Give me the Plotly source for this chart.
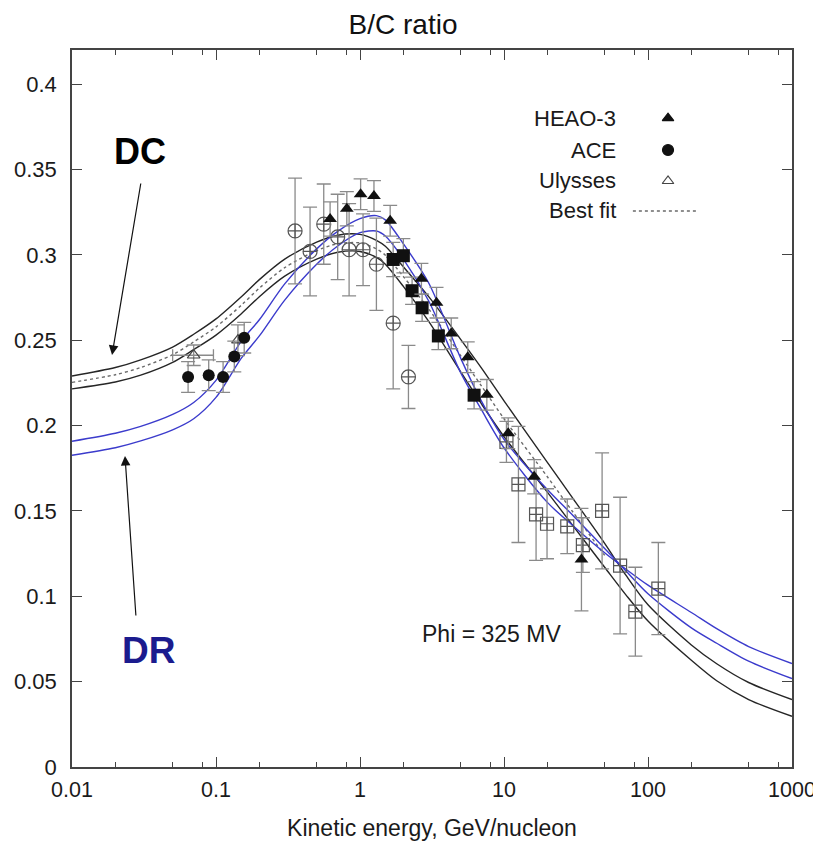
import plotly.graph_objects as go

# ---------------- data ----------------
energy_grid = [0.01, 0.02, 0.03, 0.05, 0.07, 0.1, 0.15, 0.2, 0.3, 0.5, 0.7, 1.0, 1.3, 1.5,
               2, 3, 5, 7, 10, 20, 30, 50, 70, 100, 200, 300, 500, 1000]

dc_upper = [0.229, 0.234, 0.2385, 0.246, 0.2535, 0.2625, 0.2755, 0.2855, 0.2975, 0.3075, 0.3115,
            0.312, 0.3085, 0.305, 0.293, 0.2755, 0.2505, 0.2335, 0.2145, 0.1785, 0.1575, 0.131,
            0.1125, 0.095, 0.0715, 0.0605, 0.0495, 0.0395]
dc_lower = [0.2215, 0.2255, 0.2295, 0.237, 0.2445, 0.253, 0.2655, 0.2755, 0.2875, 0.2975, 0.3015,
            0.302, 0.2985, 0.2945, 0.2815, 0.261, 0.2315, 0.2125, 0.1935, 0.161, 0.1415, 0.117,
            0.101, 0.0855, 0.0625, 0.0505, 0.0395, 0.0297]
best_fit_energy = [0.01, 0.02, 0.03, 0.05, 0.07, 0.1, 0.15, 0.2, 0.3, 0.5, 0.7, 1.0, 1.3, 1.5,
                   2, 3, 5, 7, 10, 20, 30, 50]
best_fit = [0.2253, 0.2298, 0.234, 0.2415, 0.249, 0.2578, 0.2705, 0.2805, 0.2925, 0.3025, 0.3065,
            0.307, 0.3035, 0.2998, 0.2873, 0.2683, 0.241, 0.223, 0.204, 0.17, 0.1495, 0.124]
dr_a = [0.1908, 0.1955, 0.1995, 0.2065, 0.2135, 0.2265, 0.2495, 0.262, 0.283, 0.3035, 0.3138,
        0.3212, 0.323, 0.3205, 0.3065, 0.2835, 0.2395, 0.214, 0.192, 0.1625, 0.1475, 0.128,
        0.115, 0.1015, 0.0815, 0.0725, 0.062, 0.0518]
dr_b = [0.1826, 0.187, 0.191, 0.1975, 0.204, 0.2165, 0.2395, 0.2525, 0.2735, 0.2945, 0.3052,
        0.313, 0.314, 0.311, 0.2975, 0.273, 0.231, 0.209, 0.187, 0.155, 0.1415, 0.1255,
        0.116, 0.1065, 0.0905, 0.081, 0.0705, 0.0606]

heao_e = [0.62, 0.81, 1.01, 1.25, 1.62, 2.67, 3.4, 4.3, 5.6, 7.6, 10.7, 16.2, 34.5]
heao_v = [0.321, 0.327, 0.3355, 0.3345, 0.320, 0.286, 0.272, 0.254, 0.240, 0.218, 0.1955, 0.170, 0.1215]
heao_err = [0.010, 0.010, 0.009, 0.009, 0.009, 0.009, 0.009, 0.009, 0.009, 0.009, 0.009, 0.010, 0.030]

ace_e = [0.064, 0.089, 0.112, 0.134, 0.157]
ace_v = [0.2285, 0.2295, 0.2285, 0.2405, 0.2515]
ace_err = [0.009, 0.009, 0.009, 0.009, 0.009]

ulysses_e = [0.070, 0.142]
ulysses_v = [0.2412, 0.2500]
ulysses_err = [0.006, 0.009]
ulysses_xerr_plus = [0.026, 0.0]
ulysses_xerr_minus = [0.020, 0.0]

circ_e = [0.354, 0.45, 0.56, 0.70, 0.84, 1.05, 1.30, 1.70, 2.17]
circ_v = [0.314, 0.302, 0.318, 0.3105, 0.303, 0.303, 0.2945, 0.260, 0.2285]
circ_err = [0.031, 0.026, 0.0235, 0.025, 0.027, 0.021, 0.027, 0.0385, 0.0185]

sqf_e = [1.70, 2.0, 2.3, 2.7, 3.5, 6.2]
sqf_v = [0.2973, 0.2995, 0.279, 0.269, 0.2525, 0.2178]
sqf_err = [0.010, 0.010, 0.008, 0.008, 0.008, 0.008]

sqo_e = [10.4, 12.6, 16.7, 19.9, 27.5, 35.3, 48.0, 64.0, 81.7, 118.0]
sqo_v = [0.1905, 0.1655, 0.148, 0.1425, 0.141, 0.130, 0.150, 0.118, 0.091, 0.1045]
sqo_err = [0.012, 0.034, 0.027, 0.0205, 0.016, 0.016, 0.034, 0.040, 0.026, 0.027]

x_tickvals = [0.01, 0.1, 1, 10, 100, 1000]
x_ticktext = ["0.01", "0.1", "1", "10", "100", "1000"]
y_tickvals = [0, 0.05, 0.1, 0.15, 0.2, 0.25, 0.3, 0.35, 0.4]
y_ticktext = ["0", "0.05", "0.1", "0.15", "0.2", "0.25", "0.3", "0.35", "0.4"]
legend_labels = ["HEAO-3", "ACE", "Ulysses", "Best fit"]

# ---------------- style ----------------
FONT = "Liberation Sans, Arial, Helvetica, sans-serif"
BLACK_LINE = "#262626"
BLUE_LINE = "#3b3bcc"
ERR = "#8a8a8a"
AX = "#444444"

fig = go.Figure()

def curve(x, y, color, dash="solid", width=1.4):
    fig.add_trace(go.Scatter(x=x, y=y, mode="lines",
                             line=dict(color=color, width=width, dash=dash, shape="spline", smoothing=0.8),
                             hoverinfo="skip", showlegend=False))

curve(energy_grid, dc_upper, BLACK_LINE)
curve(energy_grid, dc_lower, BLACK_LINE)
curve(best_fit_energy, best_fit, "#6a6a6a", dash="3px,3px", width=1.4)
curve(energy_grid, dr_a, BLUE_LINE)
curve(energy_grid, dr_b, BLUE_LINE)

def points(x, y, err, symbol, size, color, xplus=None, xminus=None, lw=1.2):
    kw = {}
    if xplus is not None:
        kw["error_x"] = dict(type="data", symmetric=False, array=xplus, arrayminus=xminus,
                             color=ERR, thickness=1.3, width=6)
    fig.add_trace(go.Scatter(x=x, y=y, mode="markers",
                             marker=dict(symbol=symbol, size=size, color=color,
                                         line=dict(color=color, width=lw)),
                             error_y=dict(type="data", array=err, color=ERR, thickness=1.3, width=7),
                             showlegend=False, **kw))

points(circ_e, circ_v, circ_err, "circle-cross-open", 14, "#555555")
points(sqo_e, sqo_v, sqo_err, "square-cross-open", 13, "#555555")
points(ulysses_e, ulysses_v, ulysses_err, "triangle-up-open", 11, "#444444",
       xplus=ulysses_xerr_plus, xminus=ulysses_xerr_minus)
points(ace_e, ace_v, ace_err, "circle", 12, "#111111", lw=0)
points(sqf_e, sqf_v, sqf_err, "square", 13, "#111111", lw=0)
points(heao_e, heao_v, heao_err, "triangle-up", 12, "#111111", lw=0)

# ---------------- legend (custom, text then key) ----------------
leg_y = [0.905, 0.8605, 0.8173, 0.7755]
leg_text_x = 0.7583
leg_key_x = 0.8278
key_symbols = ["triangle-up", "circle", "triangle-up-open"]
key_sizes = [10, 11, 10]
key_colors = ["#111111", "#111111", "#444444"]
for i in range(3):
    fig.add_trace(go.Scatter(x=[leg_key_x], y=[leg_y[i]], xaxis="x2", yaxis="y2", mode="markers",
                             marker=dict(symbol=key_symbols[i], size=key_sizes[i], color=key_colors[i],
                                         line=dict(color=key_colors[i], width=1.2)),
                             hoverinfo="skip", showlegend=False))
fig.add_trace(go.Scatter(x=[0.779, 0.869], y=[leg_y[3], leg_y[3]], xaxis="x2", yaxis="y2", mode="lines",
                         line=dict(color="#6a6a6a", width=1.4, dash="3px,3px"),
                         hoverinfo="skip", showlegend=False))

annotations = []
for lab, yy in zip(legend_labels, leg_y):
    annotations.append(dict(text=lab, x=leg_text_x, y=yy, xref="paper", yref="paper",
                            xanchor="right", yanchor="middle", showarrow=False,
                            font=dict(size=22, color="#1a1a1a", family=FONT)))

# DC / DR labels and arrows
annotations.append(dict(text="<b>DC</b>", x=0.0944, y=0.859, xref="paper", yref="paper",
                        xanchor="center", yanchor="middle",
                        showarrow=False, font=dict(size=36, color="#000000", family=FONT)))
annotations.append(dict(text="", x=0.0556, y=0.5746, xref="paper", yref="paper",
                        ax=29, ay=-173, showarrow=True, arrowhead=2, arrowsize=1.6,
                        arrowwidth=1.2, arrowcolor="#111111"))
annotations.append(dict(text="<b>DR</b>", x=0.1056, y=0.163, xref="paper", yref="paper",
                        xanchor="center", yanchor="middle",
                        showarrow=False, font=dict(size=37, color="#1b1b8e", family=FONT)))
annotations.append(dict(text="", x=0.0736, y=0.4338, xref="paper", yref="paper",
                        ax=11, ay=161, showarrow=True, arrowhead=2, arrowsize=1.6,
                        arrowwidth=1.2, arrowcolor="#111111"))
annotations.append(dict(text="Phi = 325 MV", x=0.483, y=0.1855, xref="paper", yref="paper",
                        xanchor="left", yanchor="middle", showarrow=False,
                        font=dict(size=23, color="#1a1a1a", family=FONT)))

minor_x = [m * d for d in [0.01, 0.1, 1, 10, 100] for m in (2, 5, 8)]

# the page body adds an 8px margin; the figure is offset by it so the plot lands in place
fig.update_layout(
    width=813, height=833,
    margin=dict(l=64, r=29, t=42, b=74, pad=0, autoexpand=False),
    paper_bgcolor="white", plot_bgcolor="white",
    font=dict(family=FONT, size=21, color="#1a1a1a"),
    title=dict(text="B/C ratio", x=0.4859, xref="container", xanchor="center",
               y=1 - 16 / 833, yref="container", yanchor="middle", automargin=False,
               font=dict(size=28, color="#111111", family=FONT)),
    showlegend=False,
    annotations=annotations,
    xaxis=dict(type="log", range=[-2, 3], tickvals=x_tickvals, ticktext=x_ticktext,
               automargin=False,
               ticks="inside", ticklen=10, tickwidth=1.3, tickcolor=AX,
               showline=True, linecolor=AX, linewidth=1.6, mirror="allticks",
               showgrid=False, zeroline=False, ticklabelstandoff=2,
               tickfont=dict(size=21.5, color="#1a1a1a"),
               minor=dict(tickvals=minor_x, ticks="inside", ticklen=5, tickwidth=1.2,
                          tickcolor=AX, showgrid=False),
               title=dict(text="Kinetic energy, GeV/nucleon", standoff=24,
                          font=dict(size=23, color="#1a1a1a"))),
    yaxis=dict(range=[0, 0.42], tickvals=y_tickvals, ticktext=y_ticktext,
               automargin=False,
               ticks="inside", ticklen=10, tickwidth=1.3, tickcolor=AX,
               showline=True, linecolor=AX, linewidth=1.6, mirror="allticks",
               showgrid=False, zeroline=False, ticklabelstandoff=9,
               tickfont=dict(size=22, color="#1a1a1a")),
    xaxis2=dict(overlaying="x", range=[0, 1], visible=False, fixedrange=True),
    yaxis2=dict(overlaying="y", range=[0, 1], visible=False, fixedrange=True),
)

fig.write_html("out.html")
